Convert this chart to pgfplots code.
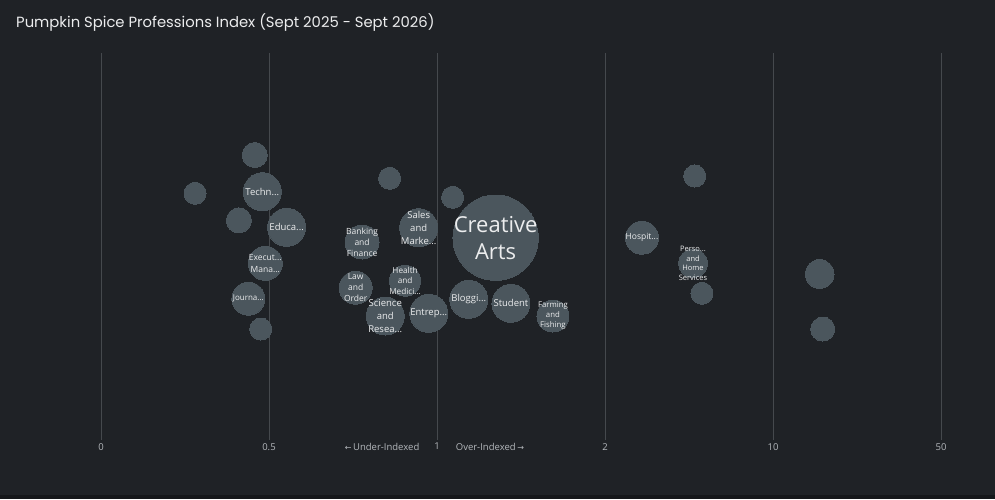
\documentclass[border=0pt]{standalone}
\usepackage{pgfplots}
\usepackage{pgfplotstable}
\usepackage{fontspec}
\pgfplotsset{compat=1.18}
\setmainfont{Open Sans}
\newfontfamily\titlefont{Poppins}
\newfontfamily\arrowfont{DejaVu Sans}

\definecolor{bg}{HTML}{1F2226}
\definecolor{bgdark}{HTML}{15171A}
\definecolor{bubble}{HTML}{4B565D}
\definecolor{gridc}{HTML}{45494D}
\definecolor{tickc}{HTML}{B4B8BC}
\definecolor{labc}{HTML}{ECEDEE}

% x = position on the index scale (0,0.5,1,2,10,50 -> 0..5), y = vertical jitter
\pgfplotstableread[col sep=comma]{
x,y,r
0.915,285.0,12.5
0.560,246.7,11
0.960,248.3,19
0.821,219.7,12.5
1.105,212.7,19
0.978,176.7,17
0.877,141.3,16.5
0.951,111.0,11
1.718,261.7,11
2.093,242.7,11
1.554,198.0,17
1.891,212.3,19
1.516,152.3,16.5
1.810,159.3,15.5
1.692,124.0,19
1.951,126.7,19
2.349,202.3,42.7
2.189,140.7,19
2.440,136.7,19
2.690,124.0,16
3.220,202.3,16.5
3.524,176.7,14.3
3.577,146.7,11
3.534,264.0,11
4.278,166.0,14.3
4.296,111.0,12
}\bubbles

\pgfplotstableread[col sep=comma]{
x,y,fs,ls,label
0.960,248.3,9.5,12,{Techn...}
1.105,212.7,9.5,12,{Educa...}
0.978,176.7,8.5,12,{Execut...\\Mana...}
0.877,141.3,8,11,{Journa...}
1.554,198.0,8.5,11,{Banking\\and\\Finance}
1.891,212.3,9.5,13,{Sales\\and\\Marke...}
1.516,152.3,8.5,11,{Law\\and\\Order}
1.810,159.3,8.2,10.5,{Health\\and\\Medici...}
1.692,124.0,9.5,13,{Science\\and\\Resea...}
1.951,126.7,9.5,12,{Entrep...}
2.349,202.3,22,27,{Creative\\Arts}
2.189,140.7,9.5,12,{Bloggi...}
2.440,136.7,9.5,12,{Student}
2.690,124.0,7.8,10,{Farming\\and\\Fishing}
3.220,202.3,8.5,11,{Hospit...}
3.524,176.7,7.5,9.4,{Perso...\\and\\Home\\Services}
}\labels

\begin{document}
\begin{tikzpicture}[x=1pt,y=1pt]
\fill[bg] (0,0) rectangle (995,499);
\fill[bgdark] (0,0) rectangle (995,4);
\path[use as bounding box] (0,0) rectangle (995,499);
\node[anchor=base west, inner sep=0pt, text=labc, font=\titlefont\fontsize{14.8}{18}\selectfont]
  at (16,471) {Pumpkin Spice Professions Index (Sept 2025 - Sept 2026)};
\begin{axis}[
    at={(101pt,59pt)}, anchor=south west,
    scale only axis,
    width=840pt, height=387pt,
    xmin=0, xmax=5, ymin=0, ymax=387,
    clip=false,
    axis line style={draw=none},
    major tick length=0pt,
    ytick=\empty,
    xtick={0,1,2,3,4,5},
    xticklabels={0,0.5,1,2,10,50},
    extra x ticks={1.673,2.315},
    extra x tick labels={{\arrowfont\fontsize{8}{9}\selectfont ←}\,Under-Indexed, Over-Indexed\,{\arrowfont\fontsize{8}{9}\selectfont →}},
    extra x tick style={grid=none},
    xmajorgrids,
    grid style={gridc, line width=0.9pt},
    xticklabel style={text=tickc, font=\fontsize{9.5}{11}\selectfont, inner sep=0pt, yshift=-3pt},
]
\addplot[scatter, only marks, mark=*,
    mark options={draw=bubble, fill=bubble, line width=0pt},
    scatter/use mapped color={draw=bubble, fill=bubble},
    visualization depends on={\thisrow{r} \as \rr},
    scatter/@pre marker code/.append style={/tikz/mark size=\rr},
] table[x=x, y=y] {\bubbles};

\addplot[draw=none, mark=none,
    point meta=explicit symbolic,
    visualization depends on={\thisrow{fs} \as \fsz},
    visualization depends on={\thisrow{ls} \as \lsz},
    nodes near coords={\pgfplotspointmeta},
    nodes near coords style={anchor=center, align=center, inner sep=0pt,
        text=labc, font=\fontsize{\fsz}{\lsz}\selectfont},
] table[x=x, y=y, meta=label] {\labels};
\end{axis}
\end{tikzpicture}
\end{document}
